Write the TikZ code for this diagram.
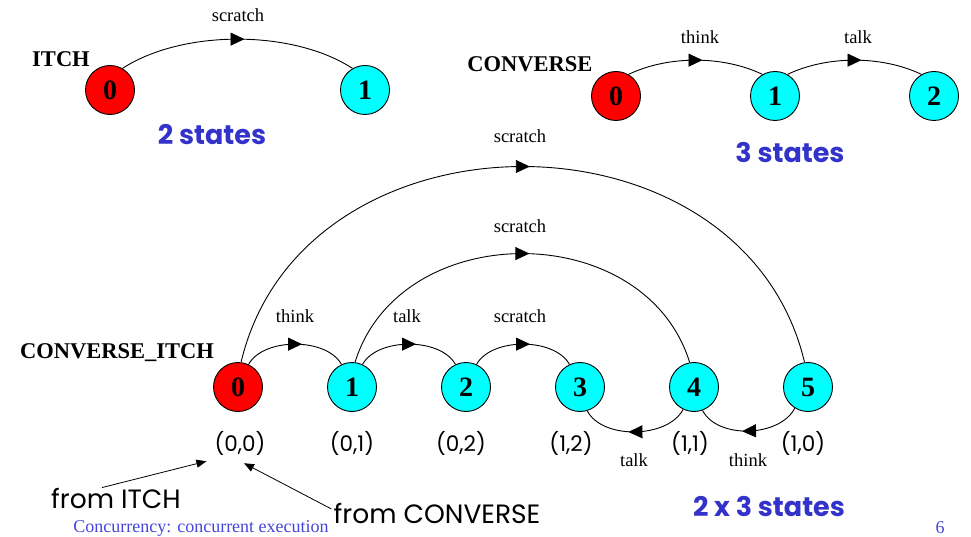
\documentclass[tikz,border=0pt]{standalone}
\usepackage{fontspec}
\setmainfont{Liberation Serif}
\newfontfamily\comic{Poppins}
\usetikzlibrary{arrows.meta,decorations.markings}
\definecolor{stblue}{RGB}{51,51,204}
\definecolor{ftblue}{RGB}{70,70,220}
\definecolor{stred}{RGB}{255,0,0}
\definecolor{stcyan}{RGB}{0,255,255}
\begin{document}
\begin{tikzpicture}[x=1pt,y=-1pt,
  st/.style={circle,draw,line width=0.9pt,minimum size=49pt,inner sep=0pt,
    font=\fontsize{28}{28}\selectfont\bfseries},
  ini/.style={st,fill=stred},
  oth/.style={st,fill=stcyan},
  tr/.style={line width=0.9pt,postaction={decorate},
    decoration={markings,mark=at position 0.5 with {\arrow[xshift=7pt]{Triangle[length=14pt,width=13pt]}}}},
  lab/.style={inner sep=0pt,font=\fontsize{18.5}{20}\selectfont},
  title/.style={inner sep=0pt,font=\fontsize{22.5}{24}\selectfont\bfseries},
  cnt/.style={inner sep=0pt,text=stblue,font=\comic\fontsize{27}{29}\selectfont\bfseries},
  pair/.style={inner sep=0pt,font=\comic\fontsize{21.5}{23}\selectfont},
  note/.style={inner sep=0pt,font=\comic\fontsize{26.5}{28}\selectfont},
  ptr/.style={line width=0.8pt,-{Triangle[length=10pt,width=8pt]}}]
\useasboundingbox[fill=white] (0,0) rectangle (971,537);

% ITCH
\node[title] (tI) at (61,59) {ITCH};
\node[ini] (i0) at (110,90) {0};
\node[oth] (i1) at (365,90) {1};
\draw[tr] (i0.60) .. controls +(60,-39) and +(-60,-39) .. (i1.120);
\node[lab] (lI) at (238,15) {scratch};
\node[cnt] (sI) at (212,135) {2 states};

% CONVERSE
\node[title] (tC) at (530,64) {CONVERSE};
\node[ini] (c0) at (616,96) {0};
\node[oth] (c1) at (775,96) {1};
\node[oth] (c2) at (934,96) {2};
\draw[tr] (c0.60) .. controls +(40,-19) and +(-40,-19) .. (c1.120);
\draw[tr] (c1.60) .. controls +(40,-19) and +(-40,-19) .. (c2.120);
\node[lab] (lC1) at (700,37) {think};
\node[lab] (lC2) at (858,37) {talk};
\node[cnt] (sC) at (790,153) {3 states};

% CONVERSE_ITCH
\node[title] (tCI) at (117,353) {CONVERSE\_ITCH};
\node[ini] (b0) at (238,387) {0};
\node[oth] (b1) at (352,387) {1};
\node[oth] (b2) at (466,387) {2};
\node[oth] (b3) at (580,387) {3};
\node[oth] (b4) at (694,387) {4};
\node[oth] (b5) at (808,387) {5};

\draw[tr] (b0.65) .. controls +(15,-27) and +(-15,-27) .. (b1.115);
\draw[tr] (b1.65) .. controls +(15,-27) and +(-15,-27) .. (b2.115);
\draw[tr] (b2.65) .. controls +(15,-27) and +(-15,-27) .. (b3.115);
\draw[tr] (b1.83) .. controls +(45,-145) and +(-45,-145) .. (b4.100);
\draw[tr] (b0.83) .. controls +(62,-261) and +(-62,-261) .. (b5.98);
\draw[tr] (b4.244) .. controls +(-15,29) and +(15,29) .. (b3.287);
\draw[tr] (b5.238) .. controls +(-15,29) and +(15,29) .. (b4.290);

\node[lab] (l01) at (295,316) {think};
\node[lab] (l12) at (407,316) {talk};
\node[lab] (l23) at (520,316) {scratch};
\node[lab] (l14) at (520,226) {scratch};
\node[lab] (l05) at (520,136) {scratch};
\node[lab] (l43) at (634,460) {talk};
\node[lab] (l54) at (748,460) {think};

\node[pair] (p00) at (240,443) {(0,0)};
\node[pair] (p01) at (352,443) {(0,1)};
\node[pair] (p02) at (461,443) {(0,2)};
\node[pair] (p12) at (571,443) {(1,2)};
\node[pair] (p11) at (690,443) {(1,1)};
\node[pair] (p10) at (803,443) {(1,0)};

\node[note] (fi) at (116,498) {from ITCH};
\node[note] (fc) at (437,513) {from CONVERSE};
\draw[ptr] ([xshift=-14pt]fi.north) -- ([shift={(-8,6)}]p00.south west);
\draw[ptr] ([shift={(-2,-4)}]fc.west) -- ([shift={(4,8)}]p00.south);

\node[cnt] (sCI) at (769,507) {2 x 3 states};

\node[inner sep=0pt,text=ftblue,font=\fontsize{18}{20}\selectfont] (ft) at (201,528) {Concurrency: concurrent execution};
\node[inner sep=0pt,text=ftblue,font=\fontsize{18}{20}\selectfont] (pg) at (940,528) {6};
\end{tikzpicture}
\end{document}
